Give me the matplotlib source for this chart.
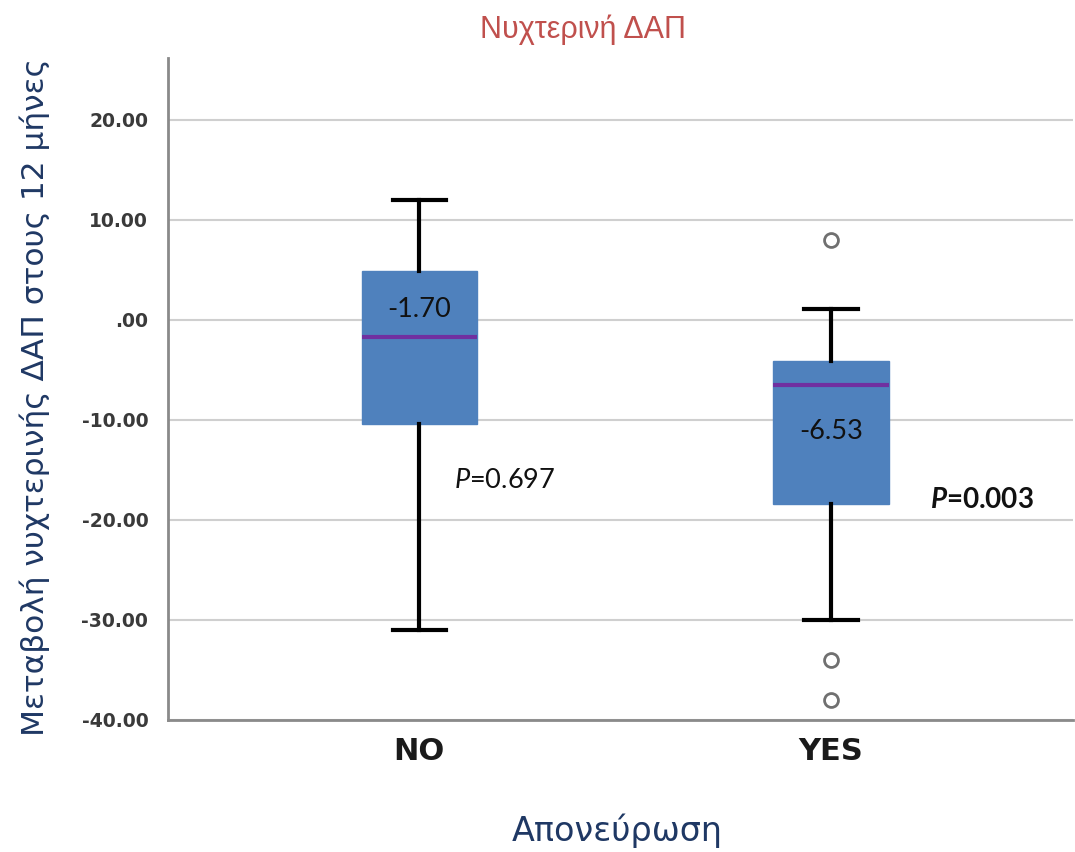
import matplotlib.pyplot as plt
from matplotlib.ticker import FuncFormatter

plt.rcParams['mathtext.fontset'] = 'custom'
plt.rcParams['mathtext.rm'] = 'Lato'
plt.rcParams['mathtext.it'] = 'Lato:italic'
plt.rcParams['mathtext.bf'] = 'Lato:bold'
plt.rcParams['mathtext.bfit'] = 'Lato:italic:bold'

groups = ['NO', 'YES']
q1 = [-10.4, -18.4]
q3 = [4.9, -4.1]
medians = [-1.70, -6.53]
whisker_low = [-31.0, -30.0]
whisker_high = [12.0, 1.1]
outliers = [[], [8.0, -34.0, -38.0]]
p_values = ['0.697', '0.003']

stats = []
for i, g in enumerate(groups):
    stats.append({'label': g, 'q1': q1[i], 'q3': q3[i], 'med': medians[i],
                  'whislo': whisker_low[i], 'whishi': whisker_high[i],
                  'fliers': outliers[i]})

fig = plt.figure(figsize=(10.75, 8.52), dpi=100)
ax = fig.add_axes([0.156, 0.155, 0.842, 0.777])

ax.bxp(stats, positions=[1, 2], widths=0.28, patch_artist=True,
       boxprops=dict(facecolor='#4F81BD', edgecolor='#4F81BD', linewidth=1),
       medianprops=dict(color='#7030A0', linewidth=3),
       whiskerprops=dict(color='black', linewidth=3),
       capprops=dict(color='black', linewidth=3),
       capwidths=0.13,
       flierprops=dict(marker='o', markersize=10, markerfacecolor='white',
                       markeredgecolor='#707070', markeredgewidth=2),
       zorder=3)

# median values printed on the boxes
label_y = [1.0, -11.2]
for x, m, y in zip([1, 2], medians, label_y):
    ax.text(x, y, f'{m:.2f}', ha='center', va='center', fontsize=19.5,
            family='Lato', color='#111111', zorder=4)

ax.text(1.085, -16.1, r'$\it{P}$=' + p_values[0], ha='left', va='center',
        fontsize=19.5, family='Lato', color='#111111')
ax.text(2.24, -18.0, r'$\mathbfit{P}$=' + p_values[1], ha='left', va='center',
        fontsize=20, family='Lato', fontweight='bold', color='#111111')

ax.set_xlim(0.389, 2.587)
ax.set_ylim(-40, 26.2)
ax.set_yticks([-40, -30, -20, -10, 0, 10, 20])


def fmt(v, pos):
    s = f'{v:.2f}'
    return '.00' if v == 0 else s


ax.yaxis.set_major_formatter(FuncFormatter(fmt))
ax.set_xticks([1, 2])
ax.set_xticklabels(groups)
ax.tick_params(axis='y', length=0, pad=14, labelsize=13.5, labelcolor='#3a3a3a')
ax.tick_params(axis='x', length=0, pad=12, labelsize=22, labelcolor='#1a1a1a')
for lbl in ax.get_yticklabels() + ax.get_xticklabels():
    lbl.set_fontweight('bold')

ax.grid(axis='y', color='#cfcfcf', linewidth=1.5, zorder=0)
ax.set_axisbelow(True)
for side in ['top', 'right']:
    ax.spines[side].set_visible(False)
for side in ['left', 'bottom']:
    ax.spines[side].set_color('#8a8a8a')
    ax.spines[side].set_linewidth(2)

fig.text(0.542, 0.965, 'Νυχτερινή ΔΑΠ', ha='center', va='center',
         fontsize=22, color='#C0504D', family='Liberation Sans')
fig.text(0.574, 0.025, 'Απονεύρωση', ha='center', va='center',
         fontsize=24, color='#1F3864')
fig.text(0.032, 0.534, 'Μεταβολή νυχτερινής ΔΑΠ στους 12 μήνες', ha='center',
         va='center', rotation=90, fontsize=22.5, color='#1F3864')

fig.savefig('out.png', dpi=100)
